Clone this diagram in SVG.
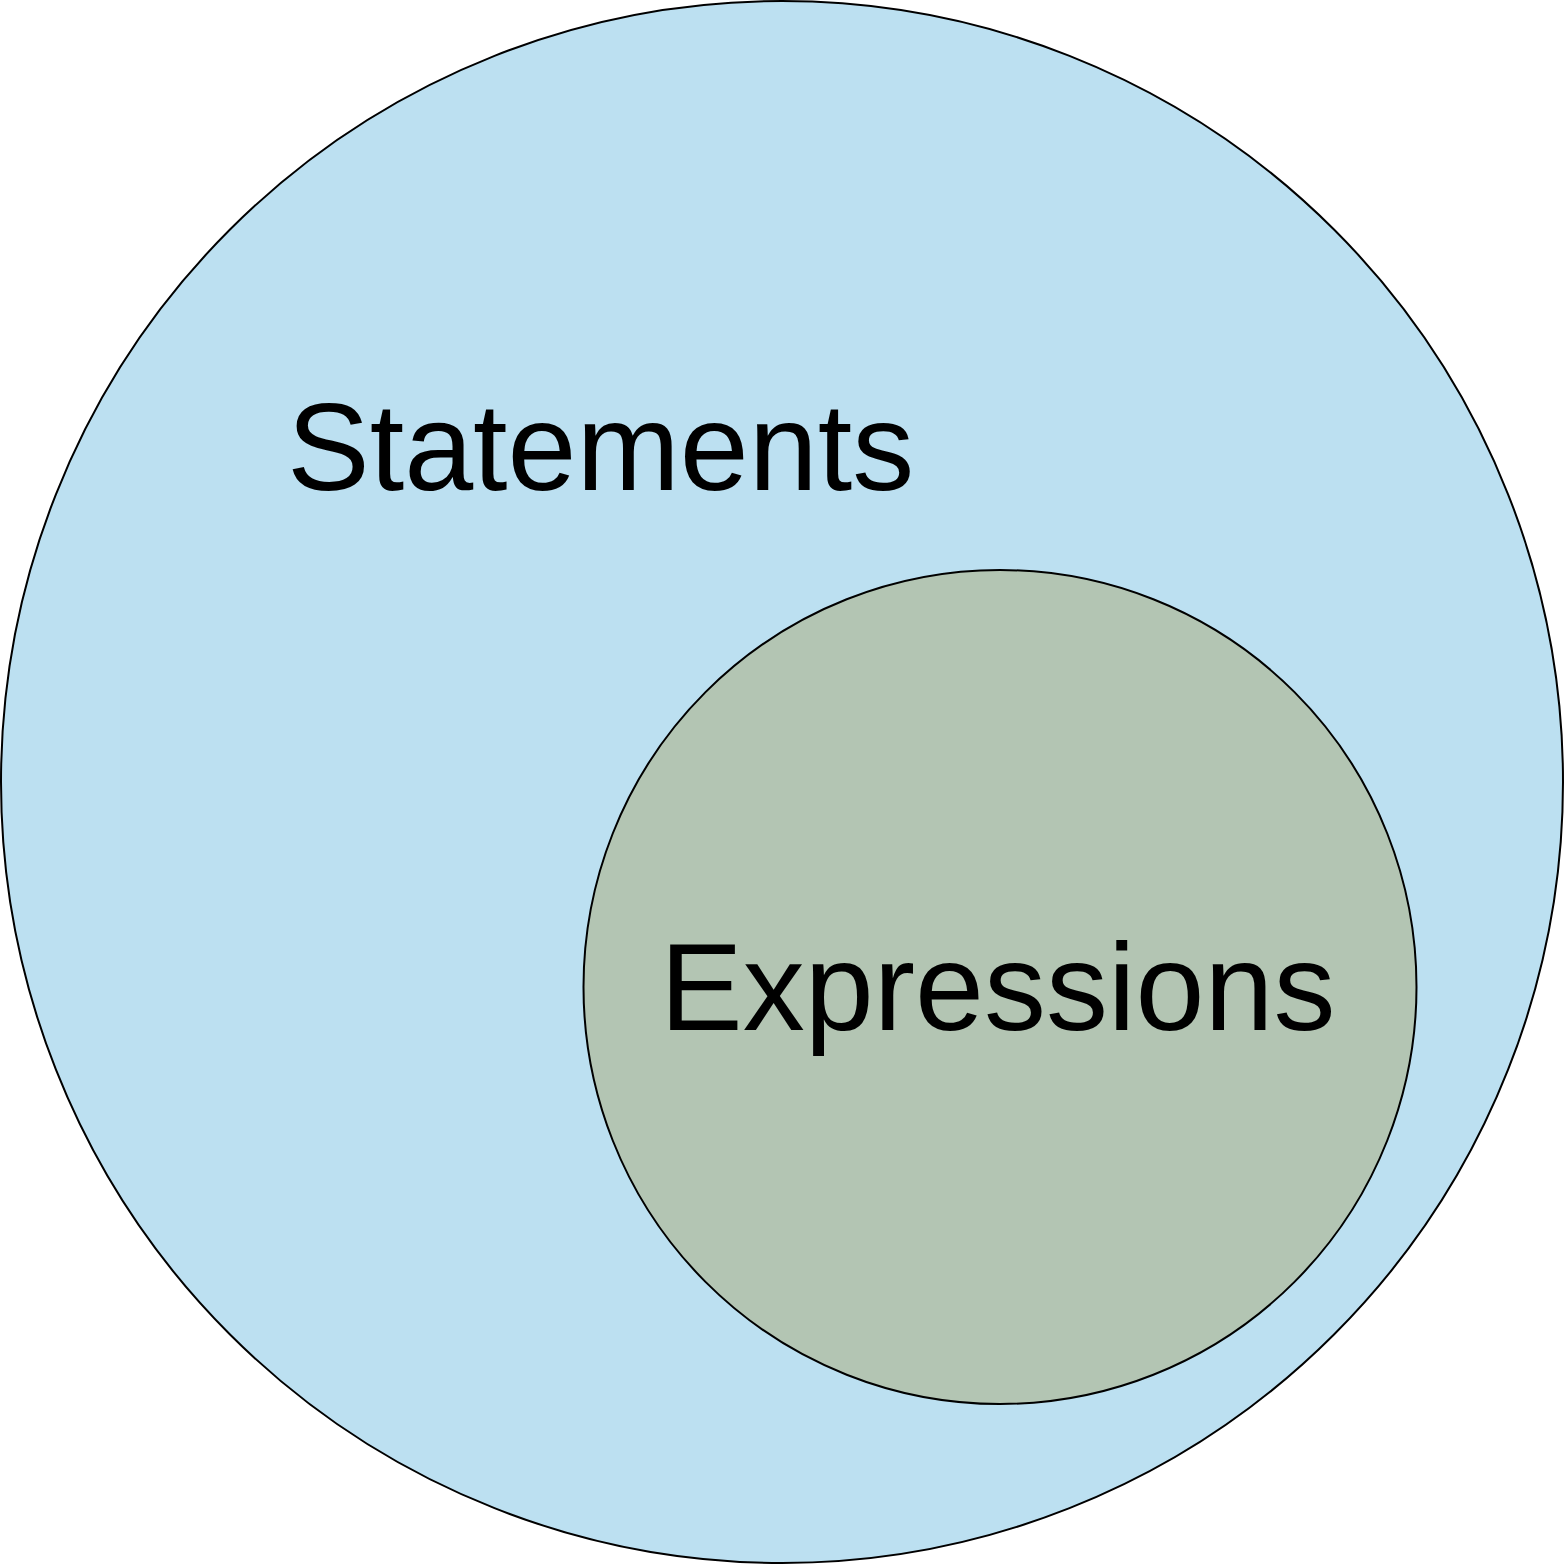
<svg xmlns="http://www.w3.org/2000/svg" width="1565" height="1565" viewBox="0 0 1565 1565">
<style>
.lbl{font-family:"Liberation Sans",Arial,sans-serif;font-size:124px;fill:#000}
circle{stroke:#000;stroke-width:2}
</style>
<rect width="1565" height="1565" fill="#fff"/>
<g id="statements">
<ellipse cx="782" cy="782" rx="781" ry="781" fill="#bce0f1" stroke="#000" stroke-width="2"/>
<text class="lbl" x="287" y="490">Statements</text>
</g>
<g id="expressions">
<ellipse cx="1000" cy="987" rx="416.5" ry="417" fill="#b3c5b3" stroke="#000" stroke-width="2"/>
<text class="lbl" x="660" y="1030">Expressions</text>
</g>
<g id="connectors"/>
</svg>
